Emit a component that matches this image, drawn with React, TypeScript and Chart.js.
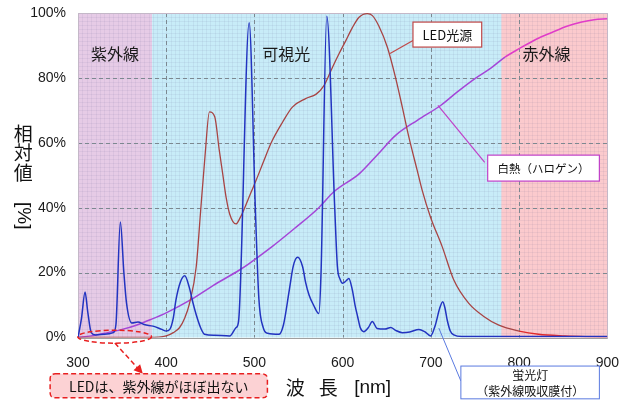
import React, { useEffect, useRef } from "react";
import { Chart, registerables } from "chart.js";

Chart.register(...registerables);

// ---- data ----
const fluoWl = [300, 304, 308, 311, 315, 320, 330, 340, 343, 348, 352, 355, 361, 368, 375, 385, 395, 400, 404, 408, 411, 416, 421, 426, 430, 434, 439, 443.5, 455, 472, 479, 482, 494, 501, 505, 510, 515, 528, 533, 539.5, 544, 549, 554.6, 558, 562, 567, 573, 575.5, 582, 591, 594, 597, 600, 604, 607, 611, 614, 617, 620, 624, 629, 633.6, 639, 648, 654.5, 660, 667.6, 676, 686.5, 693, 699.7, 705, 710, 713.5, 716, 718.5, 722, 726, 735, 800, 900];
const fluoVal = [0, 6, 14, 8, 1.5, 0.8, 1, 1.5, 4, 35.6, 20, 10.6, 4.5, 4.8, 4, 3.5, 2.5, 2, 2.5, 6, 11.5, 17, 19, 15.6, 11, 7, 3, 1, 0.7, 0.5, 3, 5, 97, 40, 12, 3, 1.3, 1, 4, 14.6, 22, 24.7, 21.8, 17, 13, 10, 7.4, 20, 99, 40, 22, 18, 16.7, 17.5, 18.2, 14.6, 10, 6.4, 3, 1.8, 3, 4.9, 2.8, 2.6, 3.1, 2.2, 1.5, 1.7, 2.5, 1.8, 0.5, 3.8, 9, 11, 9, 5.4, 2, 0.8, 0.3, 0.3, 0.3];

const ledWl = [300, 380, 400, 408, 415, 421, 426.5, 434, 439, 444, 449, 455, 460, 464, 468, 472, 479, 484, 489, 495, 502, 510, 519, 532, 543, 558, 570, 579, 588.5, 596, 603.6, 611, 618.6, 628, 633.7, 641, 650.6, 660, 667.6, 675, 684.5, 690, 699.7, 712.8, 726, 743, 760, 777, 800, 822, 852, 875, 900];
const ledVal = [0, 0, 0.5, 1.5, 3, 6, 10.6, 21.8, 39, 56, 69.5, 68, 58, 50.5, 43, 38, 35, 37, 40, 44, 48.5, 54, 60, 66.4, 71, 73.6, 75, 77.7, 83.3, 87.5, 91.5, 95.5, 98.7, 99.8, 99.2, 96, 89.5, 80, 71, 61.8, 51.5, 45.5, 37, 28, 17.7, 10.5, 6.5, 3.8, 2, 1, 0.5, 0.3, 0.2];

const halWl = [300, 315, 330, 350, 366, 383, 400, 427, 453, 483, 494, 520, 545, 573, 590, 619, 640, 660, 685, 711, 730, 750, 768, 784, 800, 820, 837, 855, 871, 885, 900];
const halVal = [0, 0.5, 1.3, 2.5, 3.8, 5.6, 7.6, 11.5, 16, 20.8, 22.8, 28, 33.5, 40, 44.9, 50.5, 56.5, 62.3, 67, 71.5, 75.7, 79.8, 83, 86.4, 89, 92, 94, 96, 97.2, 97.9, 98.2];

const regionStarts = [300, 384, 780];
const regionEnds = [384, 780, 900];
const regionColors = ["#e6cbe6", "#c8ecf8", "#fbcacd"];
const regionNames = ["紫外線", "可視光", "赤外線"];
const regionLabelX = [342, 536, 831];

const xTicks = [300, 400, 500, 600, 700, 800, 900];
const yTicks = [0, 20, 40, 60, 80, 100];

const CJK = '"Noto Sans CJK JP", "Liberation Sans", sans-serif';
const LAT = '"Liberation Sans", "Noto Sans CJK JP", sans-serif';

function roundRect(ctx: CanvasRenderingContext2D, x: number, y: number, w: number, h: number, r: number) {
  ctx.beginPath();
  ctx.moveTo(x + r, y);
  ctx.lineTo(x + w - r, y);
  ctx.quadraticCurveTo(x + w, y, x + w, y + r);
  ctx.lineTo(x + w, y + h - r);
  ctx.quadraticCurveTo(x + w, y + h, x + w - r, y + h);
  ctx.lineTo(x + r, y + h);
  ctx.quadraticCurveTo(x, y + h, x, y + h - r);
  ctx.lineTo(x, y + r);
  ctx.quadraticCurveTo(x, y, x + r, y);
  ctx.closePath();
}

const bgPlugin = {
  id: "bg",
  beforeDatasetsDraw(chart: any) {
    const { ctx, chartArea: a, scales } = chart;
    const xs = scales.x, ys = scales.y;
    ctx.save();
    for (let i = 0; i < regionStarts.length; i++) {
      const x0 = xs.getPixelForValue(regionStarts[i]);
      const x1 = xs.getPixelForValue(regionEnds[i]);
      ctx.fillStyle = regionColors[i];
      ctx.fillRect(x0, a.top, x1 - x0, a.bottom - a.top);
    }
    ctx.strokeStyle = "rgba(90,90,140,0.08)";
    ctx.lineWidth = 1;
    ctx.beginPath();
    for (let v = 305; v < 900; v += 5) {
      const x = Math.round(xs.getPixelForValue(v)) + 0.5;
      ctx.moveTo(x, a.top);
      ctx.lineTo(x, a.bottom);
    }
    for (let v = 1.25; v < 100; v += 1.25) {
      const y = Math.round(ys.getPixelForValue(v)) + 0.5;
      ctx.moveTo(a.left, y);
      ctx.lineTo(a.right, y);
    }
    ctx.stroke();
    ctx.strokeStyle = "#7c8890";
    ctx.setLineDash([4, 3]);
    ctx.beginPath();
    for (const v of xTicks) {
      if (v === 300 || v === 900) continue;
      const x = Math.round(xs.getPixelForValue(v)) + 0.5;
      ctx.moveTo(x, a.top);
      ctx.lineTo(x, a.bottom);
    }
    for (const v of yTicks) {
      if (v === 0 || v === 100) continue;
      const y = Math.round(ys.getPixelForValue(v)) + 0.5;
      ctx.moveTo(a.left, y);
      ctx.lineTo(a.right, y);
    }
    ctx.stroke();
    ctx.setLineDash([]);
    ctx.strokeStyle = "#c4b8c8";
    ctx.strokeRect(Math.round(a.left) + 0.5, Math.round(a.top) + 0.5, Math.round(a.right - a.left), Math.round(a.bottom - a.top));
    ctx.strokeStyle = "#a0a0a0";
    ctx.beginPath();
    ctx.moveTo(a.left, Math.round(a.bottom) + 0.5);
    ctx.lineTo(a.right, Math.round(a.bottom) + 0.5);
    ctx.stroke();
    ctx.fillStyle = "#1a1a1a";
    ctx.font = "16px " + CJK;
    ctx.textAlign = "center";
    ctx.textBaseline = "middle";
    for (let i = 0; i < regionNames.length; i++) {
      ctx.fillText(regionNames[i], xs.getPixelForValue(regionLabelX[i]), ys.getPixelForValue(87.5));
    }
    ctx.restore();
  },
  afterDraw(chart: any) {
    const { ctx, scales } = chart;
    const xs = scales.x, ys = scales.y;
    const X = (v: number) => xs.getPixelForValue(v);
    const Y = (v: number) => ys.getPixelForValue(v);
    ctx.save();
    ctx.textAlign = "center";
    ctx.textBaseline = "middle";

    ctx.strokeStyle = "#c04848";
    ctx.lineWidth = 1.2;
    ctx.beginPath();
    ctx.moveTo(X(679.7), Y(91.5));
    ctx.lineTo(X(653.7), Y(87.5));
    ctx.stroke();
    {
      const x0 = X(679.7), x1 = X(757.6), y0 = Y(97.2), y1 = Y(89.5);
      ctx.fillStyle = "#ffffff";
      ctx.fillRect(x0, y0, x1 - x0, y1 - y0);
      ctx.strokeRect(x0, y0, x1 - x0, y1 - y0);
      ctx.fillStyle = "#111";
      ctx.font = "13px " + CJK;
      ctx.fillText("LED光源", (x0 + x1) / 2, (y0 + y1) / 2 + 0.5);
    }

    ctx.strokeStyle = "#c040c8";
    ctx.lineWidth = 1.2;
    ctx.beginPath();
    ctx.moveTo(X(708), Y(71.5));
    ctx.lineTo(X(761), Y(54));
    ctx.stroke();
    {
      const x0 = X(764.4), x1 = X(891), y0 = Y(56.2), y1 = Y(48.2);
      ctx.fillStyle = "#ffffff";
      ctx.fillRect(x0, y0, x1 - x0, y1 - y0);
      ctx.strokeRect(x0, y0, x1 - x0, y1 - y0);
      ctx.fillStyle = "#111";
      ctx.font = "11.5px " + CJK;
      ctx.fillText("白熱（ハロゲン）", (x0 + x1) / 2, (y0 + y1) / 2 + 0.5);
    }

    ctx.strokeStyle = "#5a7ae0";
    ctx.lineWidth = 1;
    ctx.beginPath();
    ctx.moveTo(X(709), Y(2.9));
    ctx.lineTo(X(734), Y(-13.4));
    ctx.stroke();
    {
      const x0 = X(734), x1 = X(891), y0 = Y(-8.8), y1 = Y(-18.9);
      ctx.fillStyle = "#ffffff";
      ctx.fillRect(x0, y0, x1 - x0, y1 - y0);
      ctx.strokeRect(x0, y0, x1 - x0, y1 - y0);
      ctx.fillStyle = "#111";
      ctx.font = "12px " + CJK;
      const cx = (x0 + x1) / 2;
      ctx.fillText("蛍光灯", cx, y0 + 9);
      ctx.fillText("（紫外線吸収膜付）", cx, y0 + 25);
    }

    ctx.strokeStyle = "#e82020";
    ctx.lineWidth = 1.5;
    ctx.setLineDash([5, 3]);
    ctx.beginPath();
    const ecx = X(341.5), ecy = Y(0.25);
    const erx = X(341.5 + 41.8) - ecx, ery = Y(0) - Y(2);
    ctx.ellipse(ecx, ecy, erx, ery, 0, 0, Math.PI * 2);
    ctx.stroke();
    const ax0 = X(341.8), ay0 = Y(-1.7), ax1 = X(373.5), ay1 = Y(-11.2);
    const ang = Math.atan2(ay1 - ay0, ax1 - ax0);
    ctx.beginPath();
    ctx.moveTo(ax0, ay0);
    ctx.lineTo(ax1 - 6 * Math.cos(ang), ay1 - 6 * Math.sin(ang));
    ctx.stroke();
    ctx.setLineDash([]);
    ctx.fillStyle = "#e82020";
    ctx.beginPath();
    ctx.moveTo(ax1, ay1);
    ctx.lineTo(ax1 - 9 * Math.cos(ang) + 4.5 * Math.sin(ang), ay1 - 9 * Math.sin(ang) - 4.5 * Math.cos(ang));
    ctx.lineTo(ax1 - 9 * Math.cos(ang) - 4.5 * Math.sin(ang), ay1 - 9 * Math.sin(ang) + 4.5 * Math.cos(ang));
    ctx.closePath();
    ctx.fill();
    {
      const x0 = X(268.4), x1 = X(514.7), y0 = Y(-11.2), y1 = Y(-18.6);
      roundRect(ctx, x0, y0, x1 - x0, y1 - y0, 5);
      ctx.fillStyle = "#fcd2d4";
      ctx.fill();
      ctx.setLineDash([5, 3]);
      ctx.strokeStyle = "#e82020";
      ctx.lineWidth = 1.5;
      ctx.stroke();
      ctx.setLineDash([]);
      ctx.fillStyle = "#111";
      ctx.font = "14px " + CJK;
      ctx.fillText("LEDは、紫外線がほぼ出ない", (x0 + x1) / 2, (y0 + y1) / 2 + 0.5);
    }

    ctx.fillStyle = "#111";
    ctx.font = "19px " + CJK;
    const ty = Y(-15.6);
    ctx.fillText("波", X(546.3), ty);
    ctx.fillText("長", X(583.6), ty);
    ctx.font = "19px " + LAT;
    ctx.fillText("[nm]", X(634), ty);

    ctx.font = "19px " + CJK;
    const yx = X(238);
    ctx.fillText("相", yx, Y(62.8));
    ctx.fillText("対", yx, Y(56.8));
    ctx.fillText("値", yx, Y(50.8));
    ctx.save();
    ctx.translate(yx, Y(37.5));
    ctx.rotate(Math.PI / 2);
    ctx.font = "19px " + LAT;
    ctx.fillText("[%]", 0, 0);
    ctx.restore();

    ctx.restore();
  },
};

export default function App() {
  const ref = useRef<HTMLCanvasElement>(null);
  useEffect(() => {
    document.body.style.margin = "0";
    const canvas = ref.current!;
    const mk = (xsArr: number[], ysArr: number[]) => xsArr.map((x, i) => ({ x, y: ysArr[i] }));
    const chart = new Chart(canvas, {
      type: "line",
      data: {
        datasets: [
          {
            label: "蛍光灯",
            data: mk(fluoWl, fluoVal),
            borderColor: "#2233c0",
            borderWidth: 1.5,
            pointRadius: 0,
            cubicInterpolationMode: "monotone",
          },
          {
            label: "LED光源",
            data: mk(ledWl, ledVal),
            borderColor: "#a84444",
            borderWidth: 1.3,
            pointRadius: 0,
            cubicInterpolationMode: "monotone",
            segment: { borderColor: (c: any) => (c.p0.parsed.x >= 780 ? "#e02a2a" : undefined) },
          },
          {
            label: "白熱（ハロゲン）",
            data: mk(halWl, halVal),
            borderColor: "#a446d8",
            borderWidth: 1.5,
            pointRadius: 0,
            cubicInterpolationMode: "monotone",
            segment: { borderColor: (c: any) => (c.p0.parsed.x >= 780 ? "#e03cc8" : undefined) },
          },
        ],
      } as any,
      options: {
        animation: false,
        responsive: false,
        layout: { padding: { left: 0, right: 19, top: 13, bottom: 0 } },
        plugins: { legend: { display: false }, tooltip: { enabled: false } },
        scales: {
          x: {
            type: "linear",
            min: 300,
            max: 900,
            grid: { display: false },
            border: { display: false },
            afterFit: (s: any) => { s.height = 65.5; },
            afterBuildTicks: (s: any) => { s.ticks = xTicks.map((v) => ({ value: v })); },
            ticks: { padding: 9, color: "#1a1a1a", font: { family: LAT, size: 14 }, maxRotation: 0 },
          },
          y: {
            min: 0,
            max: 100,
            grid: { display: false },
            border: { display: false },
            afterFit: (s: any) => { s.width = 78; },
            afterBuildTicks: (s: any) => { s.ticks = yTicks.map((v) => ({ value: v })); },
            ticks: { padding: 4, color: "#1a1a1a", font: { family: LAT, size: 14 }, callback: (v: any) => v + "%" },
          },
        },
      } as any,
      plugins: [bgPlugin],
    });
    return () => chart.destroy();
  }, []);
  return <canvas ref={ref} width={628} height={403} style={{ display: "block" }} />;
}
